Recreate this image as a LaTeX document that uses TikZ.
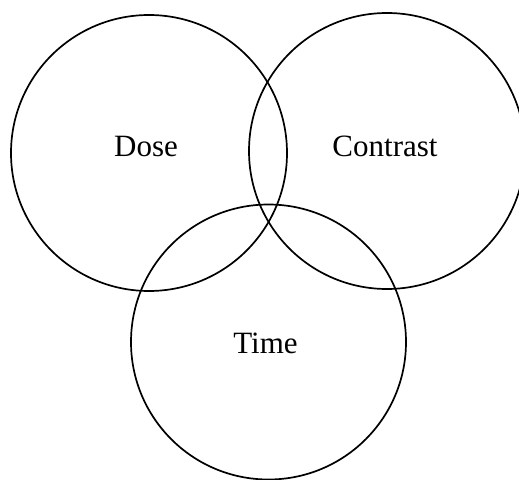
\documentclass[tikz,border=0pt]{standalone}
\usepackage{fontspec}
\setmainfont{Liberation Serif}
\usetikzlibrary{positioning}
\tikzset{
    set/.style={circle, draw=black, line width=1.7pt, inner sep=0pt},
    setname/.style={anchor=base, inner sep=0pt, font=\fontsize{31}{36}\selectfont}
}
\begin{document}
\begin{tikzpicture}[x=1pt,y=-1pt]
    \useasboundingbox (0,0) rectangle (519,479);
    \node[set, minimum size=276pt] (dose) at (149,153) {};
    \node[set, minimum size=276pt] (contrast) at (387,151) {};
    \node[set, minimum size=275pt] (time) at (268.5,342) {};
    \node[setname] (dose-l) at (146,156) {Dose};
    \node[setname] (contrast-l) at (385,156) {Contrast};
    \node[setname] (time-l) at (265.5,353) {Time};
\end{tikzpicture}
\end{document}
